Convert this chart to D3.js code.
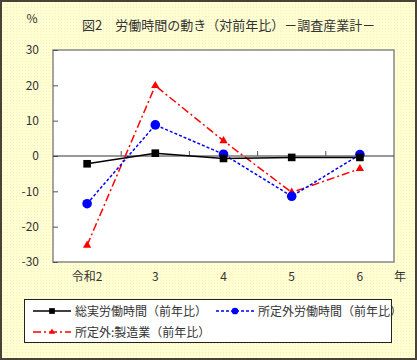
<!DOCTYPE html>
<html><head><meta charset="utf-8">
<script src="https://cdn.jsdelivr.net/npm/d3@7"></script>
<style>html,body{margin:0;padding:0;background:#fff;}svg{display:block;}</style>
</head><body>
<script>
const categories = ["令和2", "3", "4", "5", "6"];
const totalHours = [-2.2, 0.8, -0.7, -0.4, -0.4];
const overtimeHours = [-13.5, 8.8, 0.5, -11.4, 0.4];
const overtimeMfg = [-25.3, 19.9, 4.3, -10.3, -3.6];
const yTicks = [-30, -20, -10, 0, 10, 20, 30];
const seriesNames = ["総実労働時間（前年比）", "所定外労働時間（前年比）", "所定外:製造業（前年比）"];
const titleText = "図2　労働時間の動き（対前年比）－調査産業計－";

const W = 417, H = 360;
const font = "'Noto Sans CJK JP', sans-serif";
const svg = d3.select("body").append("svg").attr("width", W).attr("height", H);

const defs = svg.append("defs");
const pat = defs.append("pattern").attr("id", "dots").attr("width", 3).attr("height", 3).attr("patternUnits", "userSpaceOnUse");
pat.append("rect").attr("width", 3).attr("height", 3).attr("fill", "#ffffd2");
pat.append("rect").attr("x", 1).attr("y", 1).attr("width", 1).attr("height", 1).attr("fill", "#f3edc0");

svg.append("rect").attr("x", 0).attr("y", 0).attr("width", W).attr("height", H).attr("fill", "url(#dots)");
svg.append("rect").attr("x", 1).attr("y", 1).attr("width", W - 2).attr("height", H - 2)
  .attr("fill", "none").attr("stroke", "#4a4238").attr("stroke-width", 2);

const L = 53, R = 394, T = 50, B = 262;
const x = d3.scaleBand().domain(categories).range([L, R]);
const y = d3.scaleLinear().domain([-30, 30]).range([B, T]);

svg.append("rect").attr("x", L).attr("y", T).attr("width", R - L).attr("height", B - T)
  .attr("fill", "#fff").attr("stroke", "#888").attr("stroke-width", 1.5);

const yAxis = svg.append("g").attr("transform", `translate(${L},0)`)
  .call(d3.axisLeft(y).tickValues(yTicks).tickSize(-5).tickPadding(14).tickFormat(d => d));
yAxis.select(".domain").remove();
yAxis.selectAll("line").attr("stroke", "#555");
yAxis.selectAll("text").attr("font-family", font).attr("font-size", 12).attr("fill", "#333");

svg.append("line").attr("x1", L).attr("x2", R).attr("y1", y(0)).attr("y2", y(0)).attr("stroke", "#333").attr("stroke-width", 1);
const bounds = categories.slice(1).map(c => x(c));
svg.selectAll(".xt").data(bounds).enter().append("line")
  .attr("x1", d => d).attr("x2", d => d).attr("y1", y(0)).attr("y2", y(0) - 5).attr("stroke", "#555");

svg.selectAll(".xl").data(categories).enter().append("text")
  .attr("x", d => x(d) + x.bandwidth() / 2).attr("y", 281).attr("text-anchor", "middle")
  .attr("font-family", font).attr("font-size", 12).attr("fill", "#333").text(d => d);
svg.append("text").attr("x", 400).attr("y", 281).attr("text-anchor", "middle")
  .attr("font-family", font).attr("font-size", 12).attr("fill", "#333").text("年");

svg.append("text").attr("x", 32).attr("y", 23).attr("text-anchor", "middle")
  .attr("font-family", font).attr("font-size", 12).attr("fill", "#333").text("%");
svg.append("text").attr("x", 82).attr("y", 30)
  .attr("font-family", font).attr("font-size", 13).attr("fill", "#333").text(titleText);

const cx = d => x(d) + x.bandwidth() / 2;
const series = [
  {vals: totalHours, color: "#000", dash: null, marker: "square", w: 1.5},
  {vals: overtimeHours, color: "#0000ff", dash: "3,2", marker: "circle", w: 1.5},
  {vals: overtimeMfg, color: "#ff0000", dash: "8,3,2,3", marker: "triangle", w: 1.5}
];
const line = d3.line().x(d => cx(d.c)).y(d => y(d.v));

function drawMarker(g, type, color, px, py, scale) {
  if (type === "square") {
    g.append("rect").attr("x", px - 3.8 * scale).attr("y", py - 3.8 * scale).attr("width", 7.6 * scale).attr("height", 7.6 * scale).attr("fill", color);
  } else if (type === "circle") {
    g.append("circle").attr("cx", px).attr("cy", py).attr("r", 4.8 * scale).attr("fill", color);
  } else {
    g.append("path").attr("d", d3.symbol().type(d3.symbolTriangle).size(30 * scale * scale)()).attr("transform", `translate(${px},${py})`).attr("fill", color);
  }
}

[2, 1, 0].forEach(i => {
  const s = series[i];
  const pts = categories.map((c, j) => ({c, v: s.vals[j]}));
  svg.append("path").attr("d", line(pts)).attr("fill", "none").attr("stroke", s.color)
    .attr("stroke-width", s.w).attr("stroke-dasharray", s.dash);
  const g = svg.append("g");
  pts.forEach(p => drawMarker(g, s.marker, s.color, cx(p.c), y(p.v), 1));
});

svg.append("rect").attr("x", 24.5).attr("y", 299.5).attr("width", 367).attr("height", 43).attr("fill", "#fff").attr("stroke", "#222").attr("stroke-width", 1);
const legItems = [
  {s: series[0], x0: 33, yy: 311, name: seriesNames[0]},
  {s: series[1], x0: 216, yy: 311, name: seriesNames[1]},
  {s: series[2], x0: 33, yy: 332, name: seriesNames[2]}
];
legItems.forEach(it => {
  const g = svg.append("g");
  g.append("line").attr("x1", it.x0).attr("x2", it.x0 + 38).attr("y1", it.yy).attr("y2", it.yy)
    .attr("stroke", it.s.color).attr("stroke-width", 1.5).attr("stroke-dasharray", it.s.dash);
  drawMarker(g, it.s.marker, it.s.color, it.x0 + 19, it.yy, it.s.marker === "circle" ? 0.7 : 0.75);
  g.append("text").attr("x", it.x0 + 42).attr("y", it.yy + 4.5)
    .attr("font-family", font).attr("font-size", 12).attr("fill", "#333").text(it.name);
});
</script>
</body></html>
